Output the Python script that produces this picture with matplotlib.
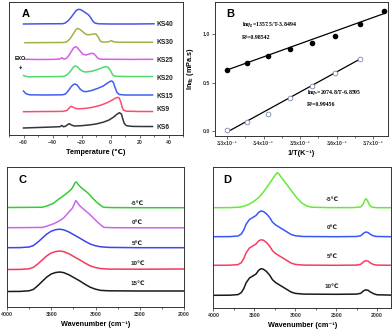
import matplotlib
matplotlib.use("Agg")
import matplotlib.pyplot as plt
from matplotlib.ticker import MultipleLocator, FixedLocator
import numpy as np

plt.rcParams['font.family'] = ['Liberation Sans', 'DejaVu Sans']
plt.rcParams['mathtext.fontset'] = 'stix'
plt.rcParams['font.weight'] = 'bold'

# ---------------- Panel A: DSC curves (temperature, offset heat flow a.u.) ----------------
ks40_T = [-60, -45, -33, -31.5, -29, -27, -25, -23.5, -22, -20.5, -19, -17, -15, -13.5, -12, -10.5, -8, 0, 15, 30]
ks40_y = [116, 116.2, 116.3, 116.8, 119.5, 123, 127, 129.8, 130.7, 130.3, 129, 127, 125, 122, 118.5, 116.8, 116.2, 116, 116, 116.2]
ks30_T = [-59, -45, -33, -30.5, -28, -26, -24, -22.7, -21, -19, -17, -15.5, -13, -11, -10, -8.5, -7, -5, -1, 0.6, 2, 5, 15, 29]
ks30_y = [97.3, 97.4, 97.5, 98, 101, 105.5, 110, 111.7, 110.5, 108, 105.8, 105.2, 105.6, 106.2, 106, 103, 98.8, 97.8, 98.3, 99.5, 98.2, 97.8, 97.8, 97.8]
ks25_T = [-59, -50, -40, -35, -33.5, -32, -30.5, -29, -27, -25.5, -24.2, -23, -21, -19, -17, -15, -13, -11.5, -10, -8.5, -6.5, 0, 15, 29]
ks25_y = [80.7, 80.5, 80.6, 81, 82.3, 80.8, 81.5, 84, 88.5, 92, 93.3, 92.5, 89, 85.8, 85, 85.8, 86.7, 86.3, 84, 81.5, 80.8, 80.7, 80.6, 80.7]
ks20_T = [-60, -57, -45, -33, -31, -29, -27, -25.5, -24.4, -23, -21, -19, -17, -14, -11, -8, -5.5, -3, -1.5, 0, 1.5, 3, 10, 20, 29]
ks20_y = [64.5, 63.2, 63.3, 63.5, 64.2, 66.5, 70, 73, 74, 73.3, 70.5, 68.5, 68, 68.5, 69.5, 71, 72.5, 73.5, 72.5, 69.5, 65, 63.8, 63.5, 63.5, 63.5]
ks15_T = [-60, -58.5, -56, -45, -33, -31, -29, -27, -25.5, -24.6, -23, -21, -19, -17, -13, -9, -5, -2, 0, 1, 2, 3, 4.5, 6, 10, 20, 29]
ks15_y = [49, 46.5, 45.2, 45, 45.2, 46, 49.5, 53.5, 55.5, 56, 55, 51, 48.8, 48.3, 49.5, 51.5, 54, 57, 58.8, 59, 57.5, 53, 47.5, 45.5, 45, 45, 45]
ks9_T = [-60, -45, -33, -30, -28.5, -27.3, -26, -24, -22, -18, -14, -10, -6, -2, 1, 3, 5, 6, 7, 8, 9, 11, 20, 29]
ks9_y = [28.3, 28.5, 28.6, 29.5, 32, 33.7, 33, 31.5, 31.2, 31.5, 32.3, 33.5, 35.2, 37.5, 39.8, 41.5, 42.7, 42, 38.5, 33, 29.8, 28.8, 28.5, 28.5]
ks6_T = [-60, -50, -40, -35, -33.5, -32.5, -31, -29.5, -28.3, -27, -25, -20, -15, -10, -5, -1, 2, 4.5, 6.2, 7.5, 8.5, 9.5, 11, 15, 22, 29]
ks6_y = [12, 12.5, 13, 13.3, 14.5, 13.2, 13.8, 15.5, 16.3, 15, 14, 14.3, 15, 16, 17.8, 20, 22.8, 25.8, 27.3, 26, 21, 16.5, 14.3, 13.6, 13.5, 13.5]
a_names = ['KS40', 'KS30', 'KS25', 'KS20', 'KS15', 'KS9', 'KS6']
a_label_y = [115, 97, 79, 61, 43, 30, 12.5]
a_colors = ['#4a55e8', '#9db544', '#d95ce8', '#4fda6a', '#3f60ee', '#f4506c', '#34343f']

# ---------------- Panel B: viscosity vs 1/T ----------------
invT = [3.300, 3.356, 3.413, 3.472, 3.534, 3.597, 3.663, 3.731]   # x10^-3 K^-1
ln_eta_g = [0.635, 0.703, 0.780, 0.852, 0.914, 0.987, 1.104, 1.242]
ln_eta_s = [0.009, 0.096, 0.178, 0.344, 0.465, 0.600, 0.741]
fit_g = (1357.5, -3.8494)
fit_s = (2074.8, -6.8595)

# ---------------- Panel C: IR spectra ----------------
c_w_m5 = [4000, 3800, 3600, 3550, 3480, 3420, 3350, 3300, 3270, 3250, 3230, 3216, 3200, 3180, 3150, 3120, 3080, 3040, 2990, 2940, 2910, 2800, 2500, 2000]
c_y_m5 = [102.5, 102.6, 102.8, 104, 106.5, 110.5, 115, 118.5, 121, 124, 127.5, 128, 126, 124, 121.5, 119.5, 116.5, 112.5, 108, 104.5, 102.7, 102.4, 102.3, 102.3]
c_w_0 = [4000, 3800, 3600, 3550, 3480, 3420, 3360, 3320, 3290, 3260, 3240, 3222, 3205, 3180, 3150, 3110, 3070, 3030, 2990, 2940, 2905, 2800, 2500, 2000]
c_y_0 = [82.3, 82.4, 82.6, 83.8, 86, 88.5, 92, 96, 99, 102, 106, 109.5, 107.5, 104.5, 102, 99, 96, 92.5, 89, 85, 82.6, 82.3, 82.2, 82.2]
c_w_b = [4000, 3850, 3750, 3700, 3650, 3600, 3550, 3500, 3450, 3405, 3360, 3300, 3240, 3180, 3120, 3060, 3000, 2940, 2850, 2500, 2000]
c_y_5 = [62.3, 62.4, 63, 64.5, 68, 72, 76, 78.8, 80.3, 80.8, 80.2, 78, 75, 72, 68.8, 66, 64.2, 63.2, 62.6, 62.3, 62.3]
c_y_10 = [40.5, 40.6, 41.2, 42.7, 46.2, 50.2, 54.2, 57, 58.5, 59, 58.4, 56.2, 53.2, 50.2, 47, 44.2, 42.4, 41.4, 40.9, 40.8, 41]
c_y_15 = [18.5, 18.6, 19.2, 20.7, 24.5, 28.8, 33, 36, 37.5, 38, 37.4, 35.2, 32.2, 29.2, 25.8, 22.8, 20.8, 19.6, 19.2, 19, 19]
c_names = ['-5℃', '0℃', '5℃', '10℃', '15℃']
c_label_y = [106.7, 87.3, 66.7, 46.7, 26.7]
c_colors = ['#36cc36', '#c866ec', '#3a48ec', '#f43a5a', '#1a1a1a']

# ---------------- Panel D: IR spectra ----------------
d_w_m5 = [4000, 3800, 3680, 3620, 3560, 3500, 3440, 3380, 3320, 3270, 3235, 3218, 3200, 3160, 3100, 3040, 2980, 2920, 2860, 2800, 2600, 2300, 2200, 2170, 2150, 2134, 2115, 2090, 2060, 2000, 1830]
d_y_m5 = [102.3, 102.4, 102.8, 104, 106, 109, 113, 119, 126, 132, 136, 137.3, 136, 131.5, 125, 118.5, 112, 107, 104, 102.8, 102.4, 102.4, 103, 106, 110, 111.3, 109, 104.5, 102.8, 102.3, 102.3]
d_w_b = [4000, 3800, 3700, 3660, 3630, 3600, 3560, 3510, 3480, 3450, 3420, 3390, 3350, 3310, 3280, 3240, 3200, 3150, 3100, 3050, 3000, 2900, 2500, 2250, 2200, 2170, 2140, 2110, 2080, 2040, 2000, 1830]
d_y_0 = [73.3, 73.4, 74, 76, 80, 86, 90.5, 93, 94.5, 97.5, 99, 98.5, 96, 92, 88, 85, 83, 80.5, 78, 75.5, 74.2, 73.5, 73.3, 73.5, 74.3, 76.5, 78, 77.5, 75.5, 74, 73.5, 73.3]
d_y_5 = [44.7, 44.8, 45.4, 47.4, 51.4, 57.4, 62, 64.5, 66, 69, 70.2, 69.8, 67.4, 63.4, 59.4, 56.4, 54.4, 51.9, 49.4, 46.9, 45.6, 44.9, 44.7, 44.9, 45.7, 47.9, 49.4, 48.9, 46.9, 45.4, 44.9, 44.7]
d_y_10 = [14.7, 14.8, 15.4, 17.4, 21.4, 27.4, 32, 34.5, 36, 39.5, 41.3, 40.8, 38.4, 34.4, 30.4, 27.4, 25.4, 22.9, 20.4, 17.9, 16.6, 15.9, 15.7, 15.9, 16.7, 18.9, 20.2, 19.7, 17.9, 16.2, 15.2, 14.9]
d_names = ['-5℃', '0℃', '5℃', '10℃']
d_label_y = [110.7, 82.3, 54, 24]
d_colors = ['#66ea3a', '#3858f6', '#f63c60', '#1a1a1a']

W, H = 392, 332
fig = plt.figure(figsize=(W / 100, H / 100), dpi=100)

def box(l, t, r, b):
    return [l / W, 1 - b / H, (r - l) / W, (b - t) / H]

axA = fig.add_axes(box(9, 2, 183, 135))
axB = fig.add_axes(box(215, 2, 388, 136))
axC = fig.add_axes(box(7, 167, 184, 307))
axD = fig.add_axes(box(213.5, 167, 391, 308))

tick_fs = 3.7
lab_fs = 5.2
LW = 1.1
for ax in (axA, axB, axC, axD):
    for s in ax.spines.values():
        s.set_linewidth(0.7)
        s.set_color('#333333')
    ax.tick_params(which='both', direction='out', width=0.5, labelsize=tick_fs, pad=1.5, colors='#333333')
    ax.tick_params(which='major', length=2.2)
    ax.tick_params(which='minor', length=1.3)

# ----- A -----
a_T = [ks40_T, ks30_T, ks25_T, ks20_T, ks15_T, ks9_T, ks6_T]
a_Y = [ks40_y, ks30_y, ks25_y, ks20_y, ks15_y, ks9_y, ks6_y]
for T, Y, c, n, ly in zip(a_T, a_Y, a_colors, a_names, a_label_y):
    axA.plot(T, Y, color=c, lw=LW, solid_joinstyle='round')
    axA.text(32, ly, n, fontsize=4.8, fontweight='bold', va='center', ha='left', color='#222222')
axA.set_xlim(-70, 50)
axA.set_ylim(5, 138)
axA.set_yticks([])
axA.xaxis.set_major_locator(FixedLocator([-60, -40, -20, 0, 20, 40]))
axA.xaxis.set_minor_locator(MultipleLocator(10))
axA.set_xlabel('Temperature (℃)', fontsize=lab_fs, fontweight='bold', labelpad=2.5)
axA.text(0.098, 0.91, 'A', transform=axA.transAxes, fontsize=8, fontweight='bold', va='center', ha='center')
axA.text(-62, 82, 'EXO', fontsize=3.8, fontweight='bold', ha='center', va='center')
axA.annotate('', xy=(-62, 67.5), xytext=(-62, 77),
             arrowprops=dict(arrowstyle='-|>', lw=0.5, ls=(0, (1.5, 1)), color='#333333', mutation_scale=3))

# ----- B -----
axB.plot(invT, ln_eta_g, 'o', color='black', ms=3.0, zorder=3)
axB.plot(invT[:len(ln_eta_s)], ln_eta_s, 'o', mfc='white', mec='#7a88a8', mew=0.6, ms=3.4, zorder=3)
xg = np.array([invT[0], invT[-1]])
axB.plot(xg, fit_g[0] * xg * 1e-3 + fit_g[1], color='black', lw=0.9)
xs = np.array([invT[0], invT[len(ln_eta_s) - 1]])
axB.plot(xs, fit_s[0] * xs * 1e-3 + fit_s[1], color='black', lw=0.9)
axB.set_xlim(3.267, 3.741)
axB.set_ylim(-0.053, 1.334)
axB.set_xticks([3.3, 3.4, 3.5, 3.6, 3.7])
axB.set_xticklabels(['%.1fx10⁻³' % v for v in [3.3, 3.4, 3.5, 3.6, 3.7]])
axB.xaxis.set_minor_locator(MultipleLocator(0.05))
axB.set_yticks([0.0, 0.5, 1.0])
axB.set_yticklabels(['0.0', '0.5', '1.0'])
axB.set_xlabel('1/T(K⁻¹)', fontsize=lab_fs, fontweight='bold', labelpad=2.5)
axB.set_ylabel(r'ln$\eta_{\rm g}$ (mPa.s)', fontsize=lab_fs, fontweight='bold', labelpad=5)
axB.text(0.087, 0.91, 'B', transform=axB.transAxes, fontsize=8, fontweight='bold', va='center', ha='center')
serif = ['Liberation Serif', 'DejaVu Serif']
axB.text(3.34, 1.09, r'ln$\eta_{\rm g}$=1357.5/T-3.8494', fontsize=4.2, family=serif, fontweight='bold', va='center')
axB.text(3.34, 0.965, 'R²=0.98542', fontsize=4.2, family=serif, fontweight='bold', va='center')
axB.text(3.518, 0.395, r'ln$\eta_{\rm s}$=2074.8/T-6.8595', fontsize=4.2, family=serif, fontweight='bold', va='center')
axB.text(3.518, 0.27, 'R²=0.99456', fontsize=4.2, family=serif, fontweight='bold', va='center')

# ----- C -----
c_W = [c_w_m5, c_w_0, c_w_b, c_w_b, c_w_b]
c_Y = [c_y_m5, c_y_0, c_y_5, c_y_10, c_y_15]
for w, Y, c, n, ly in zip(c_W, c_Y, c_colors, c_names, c_label_y):
    axC.plot(w, Y, color=c, lw=LW, solid_joinstyle='round')
    axC.text(2523, ly, n, fontsize=4.5, fontweight='bold', ha='center', va='center', color='#222222')
axC.set_xlim(4000, 2000)
axC.set_ylim(3, 143)
axC.set_yticks([])
axC.set_xticks([4000, 3500, 3000, 2500, 2000])
axC.xaxis.set_minor_locator(MultipleLocator(250))
axC.set_xlabel('Wavenumber (cm⁻¹)', fontsize=lab_fs, fontweight='bold', labelpad=2.5)
axC.text(0.09, 0.907, 'C', transform=axC.transAxes, fontsize=8, fontweight='bold', va='center', ha='center')

# ----- D -----
d_W = [d_w_m5, d_w_b, d_w_b, d_w_b]
d_Y = [d_y_m5, d_y_0, d_y_5, d_y_10]
for w, Y, c, n, ly in zip(d_W, d_Y, d_colors, d_names, d_label_y):
    axD.plot(w, Y, color=c, lw=LW, solid_joinstyle='round')
    axD.text(2548, ly, n, fontsize=4.5, fontweight='bold', ha='center', va='center', color='#222222')
axD.set_xlim(4000, 1830)
axD.set_ylim(2, 143)
axD.set_yticks([])
axD.set_xticks([4000, 3500, 3000, 2500, 2000])
axD.xaxis.set_minor_locator(MultipleLocator(250))
axD.set_xlabel('Wavenumber (cm⁻¹)', fontsize=lab_fs, fontweight='bold', labelpad=2.5)
axD.text(0.076, 0.908, 'D', transform=axD.transAxes, fontsize=8, fontweight='bold', va='center', ha='center')

fig.savefig('out.png', dpi=100)
